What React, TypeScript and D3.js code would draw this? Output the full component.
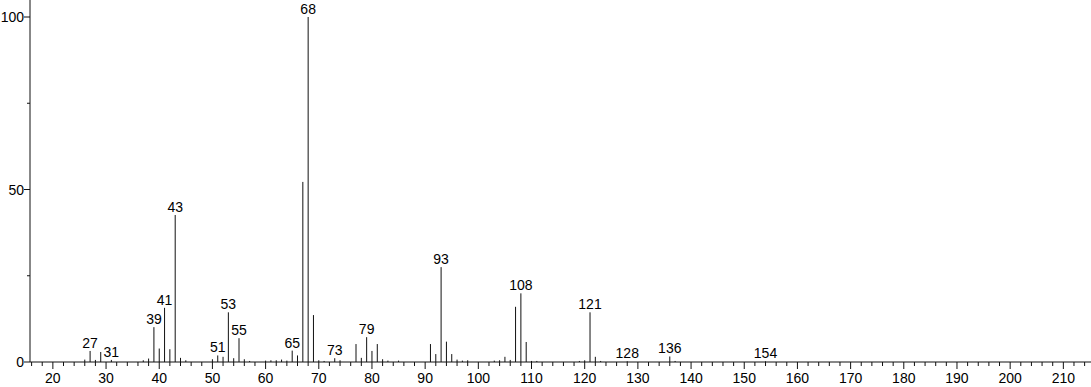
import React from "react";
import * as d3 from "d3";

const masses = [26, 27, 28, 29, 31, 37, 38, 39, 40, 41, 42, 43, 44, 45, 50, 51, 52, 53, 54, 55, 56, 57, 60, 61, 62, 63, 64, 65, 66, 67, 68, 69, 70, 71, 73, 74, 77, 78, 79, 80, 81, 82, 83, 85, 91, 92, 93, 94, 95, 96, 97, 98, 103, 104, 105, 106, 107, 108, 109, 110, 111, 119, 120, 121, 122, 123, 128, 136, 137, 154];
const intensities = [0.7, 3.2, 0.6, 2.9, 0.6, 0.5, 1.0, 10.1, 3.9, 15.7, 3.7, 42.6, 1.2, 0.5, 0.8, 1.9, 1.5, 14.4, 1.1, 6.9, 0.8, 0.3, 0.4, 0.5, 0.5, 0.7, 0.4, 3.3, 1.9, 52.2, 100, 13.6, 0.5, 0.3, 1.1, 0.5, 5.2, 1.2, 7.2, 3.2, 5.2, 0.8, 0.4, 0.4, 5.2, 2.3, 27.5, 5.9, 2.3, 0.7, 0.4, 0.5, 0.4, 0.5, 1.5, 0.6, 16.0, 19.9, 5.8, 0.3, 0.3, 0.3, 0.5, 14.4, 1.5, 0.3, 0.2, 1.6, 0.3, 0.2];
const labeledMasses = [27, 31, 39, 41, 43, 51, 53, 55, 65, 68, 73, 79, 93, 108, 121, 128, 136, 154];
const xMajorTicks = d3.range(20, 211, 10);
const xMinorTicks = d3.range(16, 215, 2).filter((v) => v % 10 !== 0);
const yMajorTicks = [0, 50, 100];
const yMinorTicks = [25, 75];

const W = 1091;
const H = 387;
const FONT = "'Liberation Sans', Arial, sans-serif";

export default function App() {
  const x = d3.scaleLinear().domain([15.7, 215.2]).range([30, 1091]);
  const y = d3.scaleLinear().domain([0, 100]).range([362, 17]);
  const x0 = x.range()[0];
  const y0 = y(0);
  const ink = "#111";

  return (
    <svg
      width={W}
      height={H}
      style={{ position: "absolute", left: 0, top: 0, background: "#fff" }}
      fontFamily={FONT}
    >
      {/* peaks */}
      {masses.map((m, i) => (
        <line
          key={"p" + m}
          x1={x(m)}
          x2={x(m)}
          y1={y0}
          y2={y(intensities[i])}
          stroke={ink}
          strokeWidth={1}
        />
      ))}
      {/* peak labels */}
      {labeledMasses.map((m) => {
        const idx = masses.indexOf(m);
        return (
          <text
            key={"l" + m}
            x={x(m)}
            y={y(intensities[idx]) - 3}
            textAnchor="middle"
            fontSize={14}
            fill="#000"
          >
            {m}
          </text>
        );
      })}
      {/* y axis */}
      <line x1={x0} x2={x0} y1={0} y2={y0} stroke={ink} strokeWidth={1} />
      {yMajorTicks.map((t) => (
        <g key={"ym" + t}>
          <line x1={x0 - 6} x2={x0} y1={y(t)} y2={y(t)} stroke={ink} />
          <text x={x0 - 6} y={y(t) + 5} textAnchor="end" fontSize={14} fill="#000">
            {t}
          </text>
        </g>
      ))}
      {yMinorTicks.map((t) => (
        <line key={"yn" + t} x1={x0 - 3} x2={x0} y1={y(t)} y2={y(t)} stroke={ink} />
      ))}
      {/* x axis */}
      <line x1={x0} x2={W} y1={y0} y2={y0} stroke={ink} strokeWidth={1} />
      {xMajorTicks.map((t) => (
        <g key={"xm" + t}>
          <line x1={x(t)} x2={x(t)} y1={y0} y2={y0 + 7} stroke={ink} />
          <text x={x(t)} y={383} textAnchor="middle" fontSize={14} fill="#000">
            {t}
          </text>
        </g>
      ))}
      {xMinorTicks.map((t) => (
        <line key={"xn" + t} x1={x(t)} x2={x(t)} y1={y0} y2={y0 + 4} stroke={ink} />
      ))}
    </svg>
  );
}
